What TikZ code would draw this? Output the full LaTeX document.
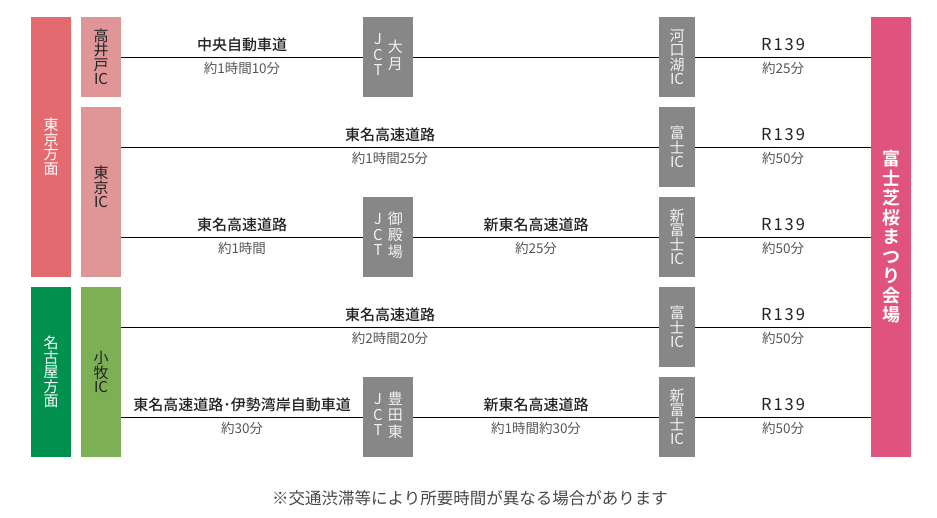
\documentclass[tikz,border=0pt]{standalone}
\usepackage{fontspec}
\setmainfont{Noto Sans CJK JP}[BoldFont={Noto Sans CJK JP Medium}]
\newfontfamily\heavyfont{Noto Sans CJK JP Bold}
\definecolor{tokyored}{HTML}{E36B70}
\definecolor{icpink}{HTML}{E09696}
\definecolor{nagoyagreen}{HTML}{00914F}
\definecolor{icgreen}{HTML}{7DAF55}
\definecolor{boxgray}{HTML}{878787}
\definecolor{venuepink}{HTML}{E0537F}
\definecolor{timegray}{HTML}{555555}
\definecolor{roadblack}{HTML}{222222}
\newcommand{\vcol}[1]{\begin{tabular}[c]{@{}c@{}}#1\end{tabular}}
\begin{document}
\begin{tikzpicture}[x=1pt,y=-1pt,
  box/.style={rectangle,inner sep=0pt,align=center},
  vt/.style={font=\fontsize{15}{14.5}\selectfont},
  icbox/.style={box,vt,minimum width=40pt,text=roadblack},
  graybox/.style={box,vt,fill=boxgray,text=white!95!black,minimum width=36pt,minimum height=80pt},
  jctbox/.style={box,fill=boxgray,text=white!95!black,minimum width=50pt,minimum height=80pt,font=\fontsize{15}{15}\selectfont},
  road/.style={font=\fontsize{15}{15}\selectfont\bfseries,text=roadblack},
  rnum/.style={font=\fontsize{16.5}{16.5}\selectfont\addfontfeature{LetterSpace=12},text=roadblack},
  time/.style={font=\fontsize{13.5}{14}\selectfont,text=timegray},
  link/.style={draw=black,line width=1pt}]
\useasboundingbox (0,0) rectangle (937,517);
% origin boxes
\node[box,vt,fill=tokyored,minimum width=40pt,minimum height=260pt,text=white] (tokyo) at (51,147) {東\\京\\方\\面};
\node[box,vt,fill=nagoyagreen,minimum width=40pt,minimum height=170pt,text=white] (nagoya) at (51,372) {名\\古\\屋\\方\\面};
% IC boxes
\node[icbox,fill=icpink,minimum height=80pt] (takaido) at (101,57) {高\\井\\戸\\IC};
\node[icbox,fill=icpink,minimum height=170pt,
  label={[vt,align=center,text=roadblack,yshift=5pt]center:東\\京\\IC}] (tokyoic) at (101,192) {};
\node[icbox,fill=icgreen,minimum height=170pt] (komaki) at (101,372) {小\\牧\\IC};
% JCT boxes
\node[jctbox] (otsuki) at (388,57) {\vcol{J\\C\\T}\hspace{5pt}\vcol{大\\月}};
\node[jctbox] (gotemba) at (388,237) {\vcol{J\\C\\T}\hspace{5pt}\vcol{御\\殿\\場}};
\node[jctbox] (toyota) at (388,417) {\vcol{J\\C\\T}\hspace{5pt}\vcol{豊\\田\\東}};
% exit IC boxes
\node[graybox] (kawaguchiko) at (677,57) {河\\口\\湖\\IC};
\node[graybox] (fujia) at (677,147) {富\\士\\IC};
\node[graybox] (shinfujia) at (677,237) {新\\富\\士\\IC};
\node[graybox] (fujib) at (677,327) {富\\士\\IC};
\node[graybox] (shinfujib) at (677,417) {新\\富\\士\\IC};
% venue
\node[box,fill=venuepink,minimum width=40pt,minimum height=440pt,text=white,font=\fontsize{18}{19.5}\selectfont\heavyfont] (venue) at (891,237) {富\\士\\芝\\桜\\ま\\つ\\り\\会\\場};
% row 1
\draw[link] (takaido.east) -- (otsuki.west)
  node[midway,yshift=12pt,road] {中央自動車道}
  node[midway,yshift=-11pt,time] {約1時間10分};
\draw[link] (otsuki.east) -- (kawaguchiko.west);
\draw[link] (kawaguchiko.east) -- (kawaguchiko.east -| venue.west)
  node[midway,yshift=12pt,rnum] {R139}
  node[midway,yshift=-11pt,time] {約25分};
% row 2
\draw[link] (tokyoic.east |- fujia.west) -- (fujia.west)
  node[midway,yshift=12pt,road] {東名高速道路}
  node[midway,yshift=-11pt,time] {約1時間25分};
\draw[link] (fujia.east) -- (fujia.east -| venue.west)
  node[midway,yshift=12pt,rnum] {R139}
  node[midway,yshift=-11pt,time] {約50分};
% row 3
\draw[link] (tokyoic.east |- gotemba.west) -- (gotemba.west)
  node[midway,yshift=12pt,road] {東名高速道路}
  node[midway,yshift=-11pt,time] {約1時間};
\draw[link] (gotemba.east) -- (shinfujia.west)
  node[midway,yshift=12pt,road] {新東名高速道路}
  node[midway,yshift=-11pt,time] {約25分};
\draw[link] (shinfujia.east) -- (shinfujia.east -| venue.west)
  node[midway,yshift=12pt,rnum] {R139}
  node[midway,yshift=-11pt,time] {約50分};
% row 4
\draw[link] (komaki.east |- fujib.west) -- (fujib.west)
  node[midway,yshift=12pt,road] {東名高速道路}
  node[midway,yshift=-11pt,time] {約2時間20分};
\draw[link] (fujib.east) -- (fujib.east -| venue.west)
  node[midway,yshift=12pt,rnum] {R139}
  node[midway,yshift=-11pt,time] {約50分};
% row 5
\draw[link] (komaki.east |- toyota.west) -- (toyota.west)
  node[midway,yshift=12pt,road] {東名高速道路･伊勢湾岸自動車道}
  node[midway,yshift=-11pt,time] {約30分};
\draw[link] (toyota.east) -- (shinfujib.west)
  node[midway,yshift=12pt,road] {新東名高速道路}
  node[midway,yshift=-11pt,time] {約1時間約30分};
\draw[link] (shinfujib.east) -- (shinfujib.east -| venue.west)
  node[midway,yshift=12pt,rnum] {R139}
  node[midway,yshift=-11pt,time] {約50分};
% note
\node[font=\fontsize{16.5}{16.5}\selectfont,text=black!72] (note) at (470,498) {※交通渋滞等により所要時間が異なる場合があります};
\end{tikzpicture}
\end{document}
